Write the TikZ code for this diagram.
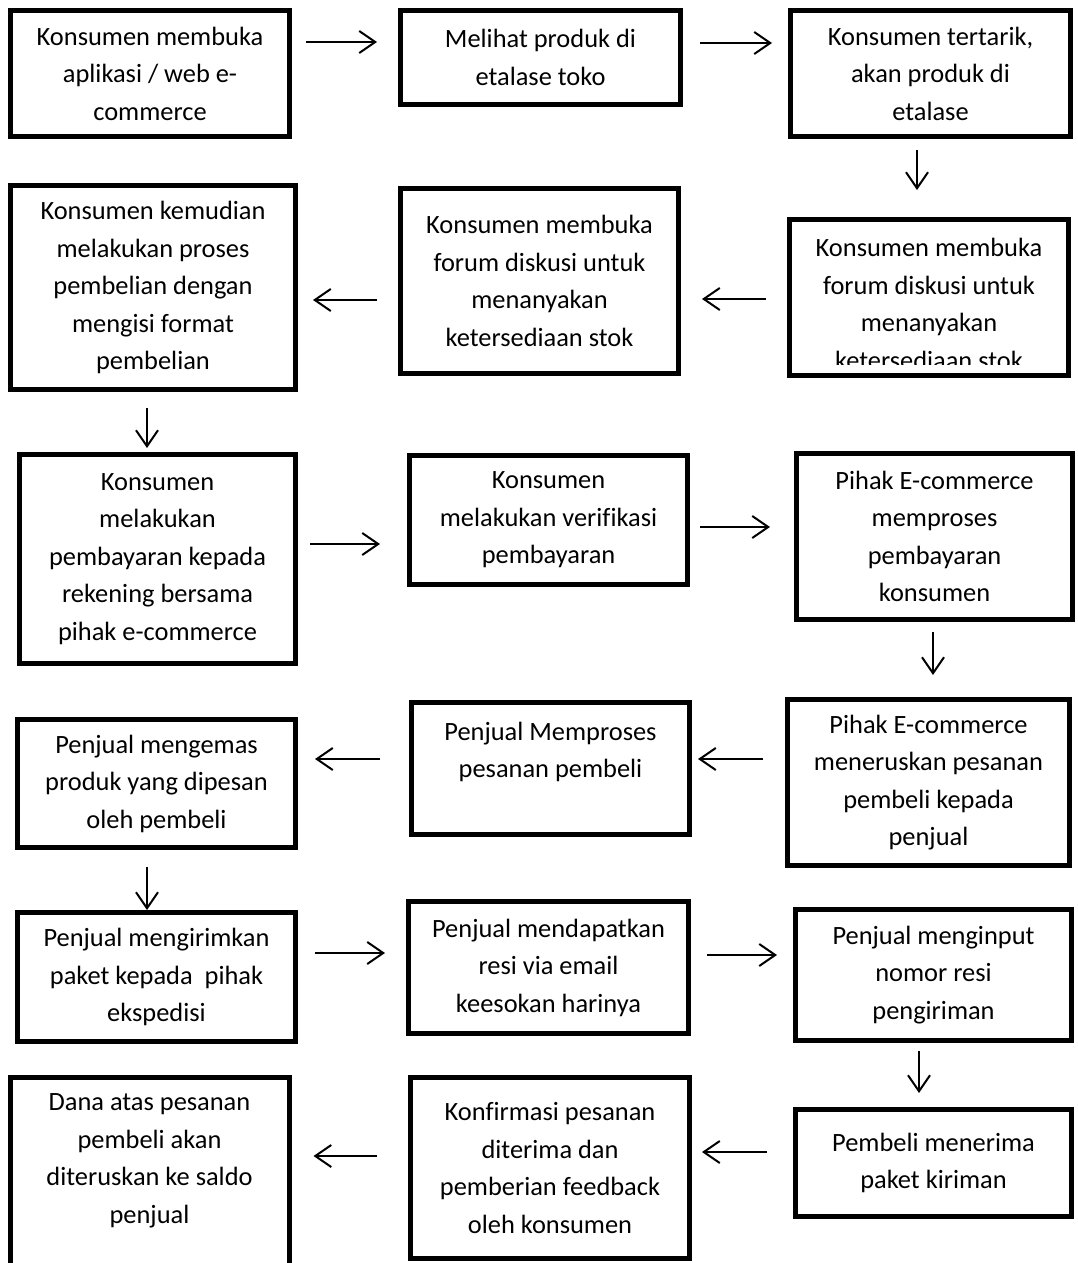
\documentclass[tikz,border=0pt]{standalone}
\usepackage{fontspec}
\setmainfont{Carlito}[Ligatures=NoCommon]
\usetikzlibrary{arrows.meta}

\begin{document}
\begin{tikzpicture}[x=0.5pt, y=-0.5pt,
  box/.style={draw, line width=2.5pt, align=center, inner sep=0pt, font=\fontsize{13.2}{18.75}\selectfont},
  txt/.style={align=center, inner sep=0pt, font=\fontsize{13.2}{18.75}\selectfont},
  arr/.style={-{Straight Barb[length=8pt, width=11pt]}, line width=1pt}]
\useasboundingbox (0,0) rectangle (1077,1263);
\clip (0,0) rectangle (1077,1263);
% baris 1
\node[box, minimum width=139.5pt, minimum height=63pt] (buka) at (150,73.5) {Konsumen membuka\\aplikasi / web e-\\commerce};
\node[box, minimum width=140pt, minimum height=47pt] (lihat) at (540.5,57.5) {Melihat produk di\\etalase toko};
\node[box, minimum width=140pt, minimum height=63pt] (tertarik) at (930.5,73.5) {Konsumen tertarik,\\akan produk di\\etalase};
% baris 2
\node[box, minimum width=139.5pt, minimum height=78pt] (forum) at (929,297.5) {};
\begin{scope}
\clip (forum.north west) rectangle (forum.east |- 0,364);
\node[txt] (forum-t) at ([yshift=-3.25pt]forum.center) {Konsumen membuka\\forum diskusi untuk\\menanyakan\\ketersediaan stok};
\end{scope}
\node[box, minimum width=139pt, minimum height=92.5pt] (tanya) at (539.5,281) {Konsumen membuka\\forum diskusi untuk\\menanyakan\\ketersediaan stok};
\node[box, minimum width=142.5pt, minimum height=102pt] (beli) at (153,287.5) {Konsumen kemudian\\melakukan proses\\pembelian dengan\\mengisi format\\pembelian};
% baris 3
\node[box, minimum width=138pt, minimum height=104.5pt] (bayar) at (157.5,559) {Konsumen\\melakukan\\pembayaran kepada\\rekening bersama\\pihak e-commerce};
\node[box, minimum width=139pt, minimum height=64.5pt] (verif) at (548.5,520) {Konsumen\\melakukan verifikasi\\pembayaran};
\node[box, minimum width=138pt, minimum height=83pt] (proses) at (934.5,536.5) {Pihak E-commerce\\memproses\\pembayaran\\konsumen};
% baris 4
\node[box, minimum width=141pt, minimum height=83pt] (teruskan) at (928.5,782.5) {Pihak E-commerce\\meneruskan pesanan\\pembeli kepada\\penjual};
\node[box, minimum width=139pt, minimum height=66pt] (olah) at (550.5,768.5) {Penjual Memproses\\pesanan pembeli\\~};
\node[box, minimum width=139pt, minimum height=64pt] (kemas) at (156.5,783.5) {Penjual mengemas\\produk yang dipesan\\oleh pembeli};
% baris 5
\node[box, minimum width=139pt, minimum height=64.5pt] (kirim) at (156.5,977) {Penjual mengirimkan\\paket kepada~ pihak\\ekspedisi};
\node[box, minimum width=140pt, minimum height=66pt] (resi) at (548.5,967.5) {Penjual mendapatkan\\resi via email\\keesokan harinya};
\node[box, minimum width=138pt, minimum height=65.5pt] (input) at (933.5,975) {Penjual menginput\\nomor resi\\pengiriman};
% baris 6
\node[box, minimum width=138pt, minimum height=53.5pt] (terima) at (933.5,1163) {Pembeli menerima\\paket kiriman};
\node[box, minimum width=139.5pt, minimum height=90.5pt] (konfirm) at (550,1168) {Konfirmasi pesanan\\diterima dan\\pemberian feedback\\oleh konsumen};
\node[box, minimum width=139.5pt, minimum height=100pt] (dana) at (149.5,1177.5) {Dana atas pesanan\\pembeli akan\\diteruskan ke saldo\\penjual\\~};
% panah
\foreach \a/\b/\y/\ga/\gb in {buka/lihat/42/7/10.5, lihat/tertarik/43/8.5/8, bayar/verif/544/6/13.5, verif/proses/527/5/12, kirim/resi/953/8.5/10.5, resi/input/955/8/8}
  \draw[arr, shorten <=\ga pt, shorten >=\gb pt] (\a.east |- 0,\y) -- (\b.west |- 0,\y);
\foreach \a/\b/\y/\ga/\gb in {forum/tanya/299/10.5/10.5, tanya/beli/300/10.5/7.5, teruskan/olah/759/11/3, olah/kemas/759/14.5/8.5, terima/konfirm/1152/13/5, konfirm/dana/1156/15.5/11}
  \draw[arr, shorten <=\ga pt, shorten >=\gb pt] (\a.west |- 0,\y) -- (\b.east |- 0,\y);
\foreach \a/\b/\x/\ga/\gb in {tertarik/forum/917/5.5/13.5, beli/bayar/147/8/2, proses/teruskan/933/5/11, kemas/kirim/147/8.5/0, input/terima/919/4/7}
  \draw[arr, shorten <=\ga pt, shorten >=\gb pt] (\a.south -| \x,0) -- (\b.north -| \x,0);
\end{tikzpicture}
\end{document}
